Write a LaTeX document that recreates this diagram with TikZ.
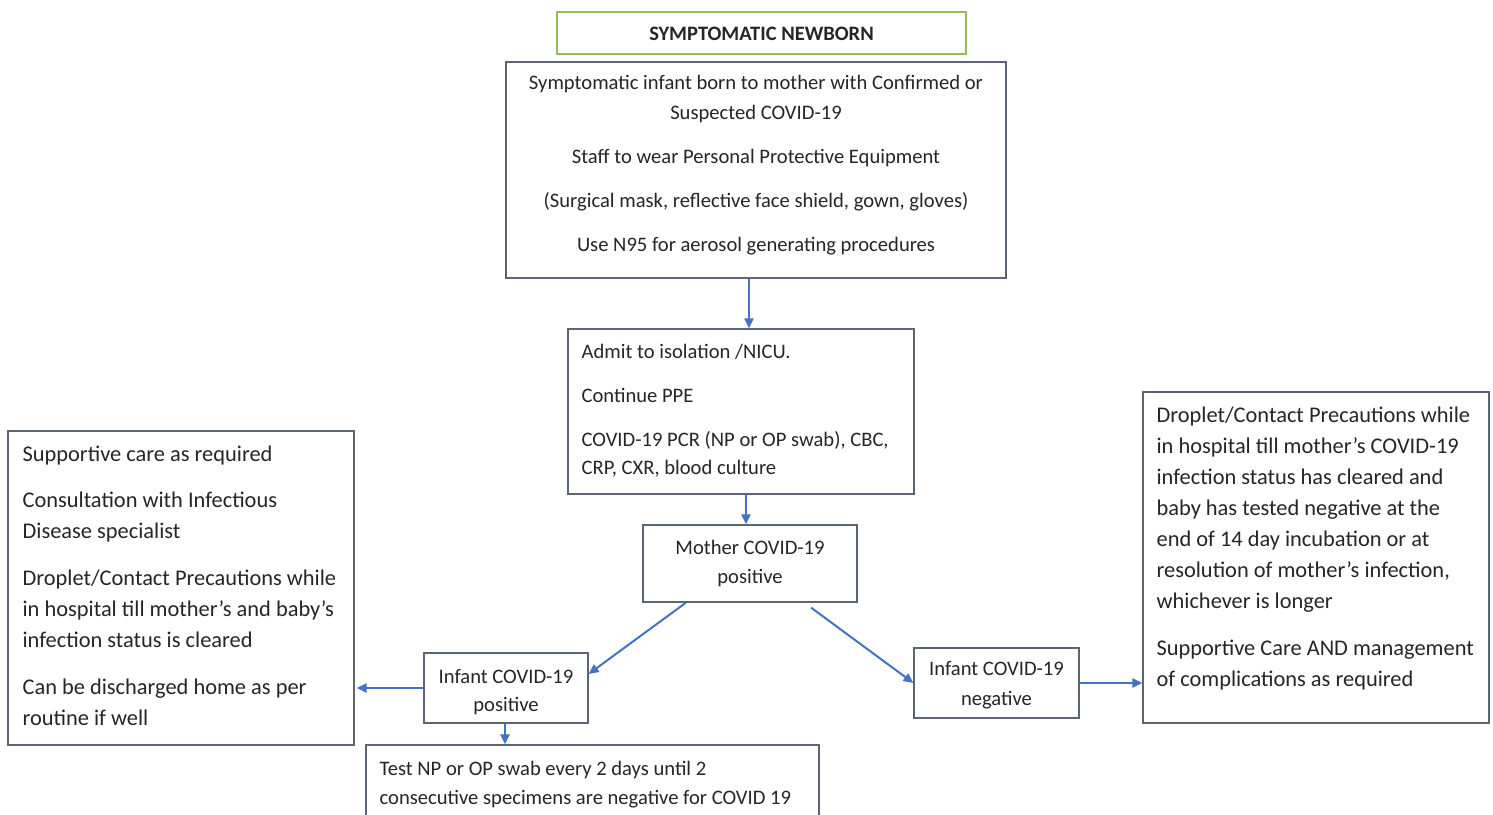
\documentclass[tikz,border=0pt]{standalone}
\usepackage{fontspec}
\setmainfont{Carlito}
\usetikzlibrary{arrows.meta,calc}
\definecolor{boxline}{HTML}{5B6573}
\definecolor{titleline}{HTML}{9BBB59}
\definecolor{arrowblue}{HTML}{4472C4}
\definecolor{txt}{HTML}{262626}
\tikzset{
  box/.style={draw=boxline, line width=1.2pt, rectangle, inner sep=0pt},
  titlebox/.style={draw=titleline, line width=1.2pt, rectangle, inner sep=0pt,
    font=\fontsize{20.5}{24}\selectfont\bfseries, text=txt},
  txtc/.style={inner sep=0pt, align=center, text=txt, font=\fontsize{20.6}{30.5}\selectfont},
  txtl/.style={inner sep=0pt, align=left, text=txt, font=\fontsize{20.6}{30.5}\selectfont},
  txtbig/.style={inner sep=0pt, align=left, text=txt, font=\fontsize{22.4}{31}\selectfont},
  arr/.style={draw=arrowblue, line width=2pt, -{Triangle[length=10pt,width=9pt]}}
}
\begin{document}
\begin{tikzpicture}[x=1pt,y=-1pt]
\useasboundingbox[fill=white] (0,0) rectangle (1493,814);
% boxes
\node[titlebox, minimum width=409pt, minimum height=42pt, text depth=0pt] (title) at (761.5,33) {\raisebox{-2pt}{SYMPTOMATIC NEWBORN}};
\node[box, minimum width=500pt, minimum height=216pt] (box1) at (756,170) {};
\node[box, minimum width=346pt, minimum height=165pt] (box2) at (741,411.5) {};
\node[box, minimum width=214pt, minimum height=77pt] (box3) at (750,563.5) {};
\node[box, minimum width=164pt, minimum height=70pt] (box4) at (506,688) {};
\node[box, minimum width=346pt, minimum height=314pt] (left) at (181,588) {};
\node[box, minimum width=453pt, minimum height=95pt] (bottom) at (592.5,792.5) {};
\node[box, minimum width=165pt, minimum height=70pt] (neg) at (996.5,683) {};
\node[box, minimum width=346pt, minimum height=331pt] (right) at (1316,557.5) {};
% texts
\node[txtc, anchor=north] (t1) at ([yshift=-7pt]box1.north) {\strut Symptomatic infant born to mother with Confirmed or\\[-0.5pt]
Suspected COVID-19\\[13.5pt]
Staff to wear Personal Protective Equipment\\[13.5pt]
(Surgical mask, reflective face shield, gown, gloves)\\[13.5pt]
Use N95 for aerosol generating procedures};
\node[txtl, anchor=north west] (t2) at ([xshift=14pt,yshift=-9pt]box2.north west) {\strut Admit to isolation /NICU.\\[13.5pt]
Continue PPE\\[13.5pt]
COVID-19 PCR (NP or OP swab), CBC,\\[-2.5pt]
CRP, CXR, blood culture};
\node[txtc, anchor=north] (t3) at ([yshift=-9pt]box3.north) {\strut Mother COVID-19\\[-1.5pt]positive};
\node[txtc, anchor=north] (t4) at ([yshift=-10pt]box4.north) {\strut Infant COVID-19\\[-2.5pt]positive};
\node[txtc, anchor=north] (t5) at ([yshift=-7pt]neg.north) {\strut Infant COVID-19\\[-0.5pt]negative};
\node[txtbig, anchor=north west] (t6) at ([xshift=15pt,yshift=-9pt]left.north west) {\strut Supportive care as required\\[15pt]
Consultation with Infectious\\
Disease specialist\\[16pt]
Droplet/Contact Precautions while\\
in hospital till mother’s and baby’s\\
infection status is cleared\\[16pt]
Can be discharged home as per\\
routine if well};
\node[txtbig, anchor=north west] (t7) at ([xshift=14pt,yshift=-9pt]right.north west) {\strut Droplet/Contact Precautions while\\
in hospital till mother’s COVID-19\\
infection status has cleared and\\
baby has tested negative at the\\
end of 14 day incubation or at\\
resolution of mother’s infection,\\
whichever is longer\\[16pt]
Supportive Care AND management\\
of complications as required};
\node[txtl, anchor=north west] (t8) at ([xshift=14pt,yshift=-10pt]bottom.north west) {\strut Test NP or OP swab every 2 days until 2\\[-2pt]
consecutive specimens are negative for COVID 19};
% arrows
\draw[arr] ([xshift=-7pt]box1.south) -- ([xshift=-7pt]box1.south |- box2.north);
\draw[arr] ([xshift=5pt]box2.south) -- ([xshift=5pt]box2.south |- box3.north);
\draw[arr] ([xshift=-64pt]box3.south) -- ([yshift=14pt]box4.east);
\draw[arr] ([xshift=61pt,yshift=-5pt]box3.south) -- (neg.west);
\draw[arr] (box4.west) -- ([xshift=2pt]box4.west -| left.east);
\draw[arr] ([xshift=-1pt]box4.south) -- ([xshift=-1pt]box4.south |- bottom.north);
\draw[arr] (neg.east) -- (neg.east -| right.west);
\end{tikzpicture}
\end{document}
